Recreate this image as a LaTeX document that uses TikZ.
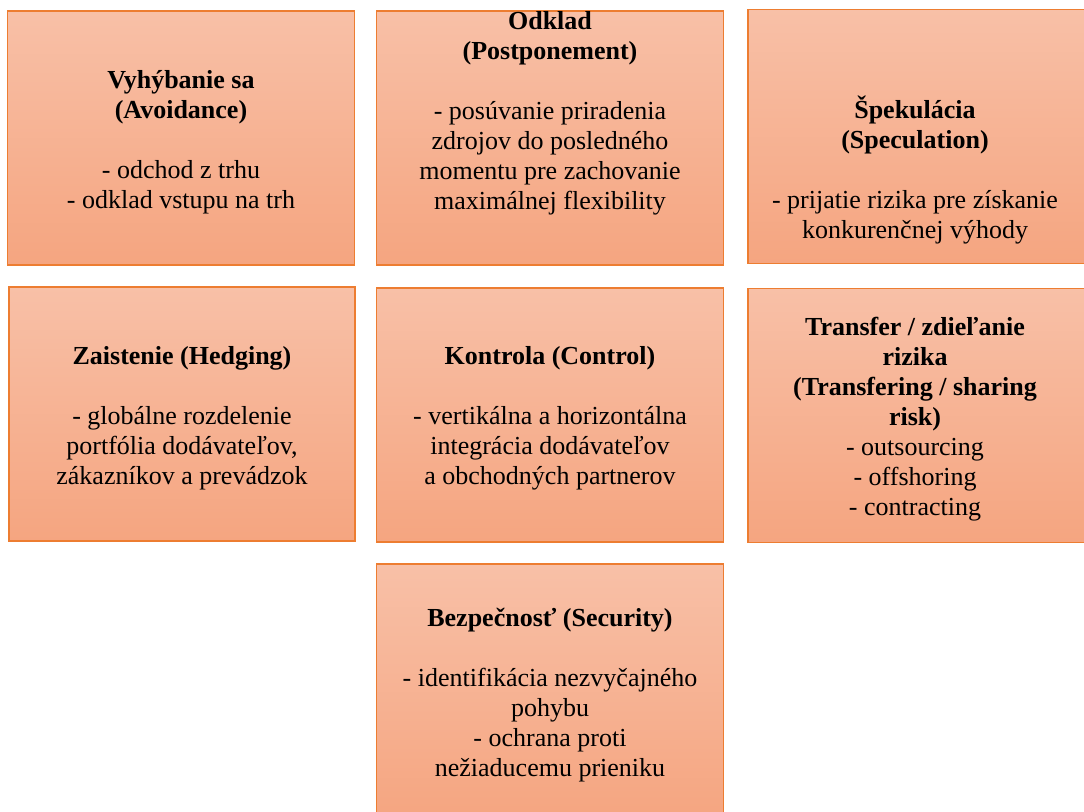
\documentclass[tikz,border=0pt]{standalone}
\usepackage{fontspec}
\setmainfont{Liberation Serif}
\usepackage{tikz}
\usetikzlibrary{positioning}
\definecolor{boxborder}{RGB}{237,125,49}
\definecolor{boxtop}{RGB}{248,192,167}
\definecolor{boxbottom}{RGB}{245,165,128}
\tikzset{
    riskbox/.style={
        rectangle,
        draw=boxborder,
        line width=1.1pt,
        top color=boxtop,
        bottom color=boxbottom,
        minimum width=260pt,
        minimum height=190.5pt,
        inner sep=0pt
    },
    edgebox/.style={
        riskbox,
        minimum width=256.5pt
    },
    risktext/.style={
        align=center,
        inner sep=0pt,
        font=\fontsize{19.5}{22.5}\selectfont
    }
}

\begin{document}
\begin{tikzpicture}[x=0.75pt,y=-0.75pt]
        \useasboundingbox (0,0) rectangle (1084,812);
        \clip (0,0) rectangle (1084,812);

        % Row 1
        \node[riskbox] (avoid) at (181,138) {};
        \node[riskbox] (postpone) at (550,138) {};
        \node[edgebox] (spec) at (919,136.5) {};

        % Row 2
        \node[riskbox, minimum width=259.5pt] (hedge) at (182,414) {};
        \node[riskbox] (control) at (550,415) {};
        \node[edgebox] (transfer) at (919,415.5) {};

        % Row 3
        \node[riskbox, minimum height=192pt] (secure) at (550,692) {};

        % Texts
        \node[risktext] (avoidtxt) at (181,142)
            {\textbf{Vyhýbanie sa}\\\textbf{(Avoidance)}\\[22.5pt]- odchod z trhu\\- odklad vstupu na trh};
        \node[risktext] (postponetxt) at (550,113)
            {\textbf{Odklad}\\\textbf{(Postponement)}\\[22.5pt]- posúvanie priradenia\\zdrojov do posledného\\momentu pre zachovanie\\maximálnej flexibility};
        \node[risktext] (spectxt) at (915,170)
            {\textbf{Špekulácia}\\\textbf{(Speculation)}\\[22.5pt]- prijatie rizika pre získanie\\konkurenčnej výhody};
        \node[risktext] (hedgetxt) at (182,418)
            {\textbf{Zaistenie (Hedging)}\\[22.5pt]- globálne rozdelenie\\portfólia dodávateľov,\\zákazníkov a prevádzok};
        \node[risktext] (controltxt) at (550,418)
            {\textbf{Kontrola (Control)}\\[22.5pt]- vertikálna a horizontálna\\integrácia dodávateľov\\a obchodných partnerov};
        \node[risktext] (transfertxt) at (915,419)
            {\textbf{Transfer / zdieľanie}\\\textbf{rizika}\\\textbf{(Transfering / sharing}\\\textbf{risk)}\\- outsourcing\\- offshoring\\- contracting};
        \node[risktext] (securetxt) at (550,695)
            {\textbf{Bezpečnosť (Security)}\\[22.5pt]- identifikácia nezvyčajného\\pohybu\\- ochrana proti\\nežiaducemu prieniku};
    \end{tikzpicture}
\end{document}
